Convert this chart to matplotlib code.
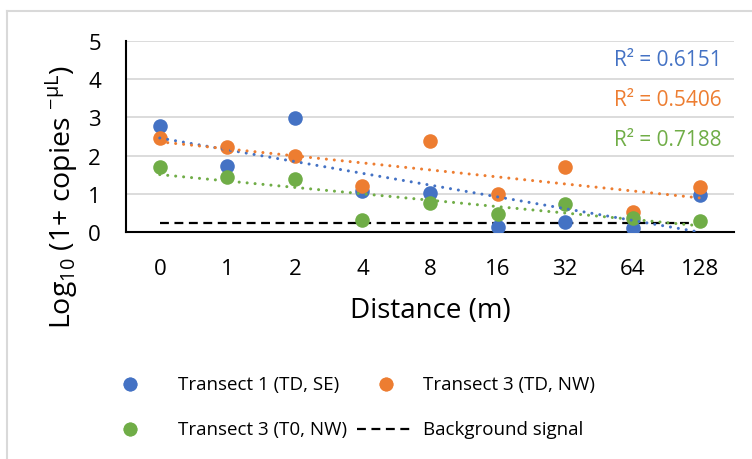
import numpy as np
import matplotlib
matplotlib.use("Agg")
import matplotlib.pyplot as plt
from matplotlib.lines import Line2D

plt.rcParams['font.family'] = ['Open Sans', 'DejaVu Sans']

categories = ["0", "1", "2", "4", "8", "16", "32", "64", "128"]
t1_td_se = [2.78, 1.73, 2.98, 1.07, 1.02, 0.13, 0.27, 0.10, 0.97]
t3_td_nw = [2.45, 2.22, 2.00, 1.21, 2.37, 0.99, 1.69, 0.52, 1.18]
t3_t0_nw = [1.71, 1.45, 1.38, 0.32, 0.76, 0.48, 0.73, 0.37, 0.29]
background = [0.23] * 9
r2_labels = ["R² = 0.6151", "R² = 0.5406", "R² = 0.7188"]
legend_labels = ["Transect 1 (TD, SE)", "Transect 3 (TD, NW)",
                 "Transect 3 (T0, NW)", "Background signal"]

blue, orange, green = "#4472C4", "#ED7D31", "#70AD47"

W, H = 752, 460
fig = plt.figure(figsize=(W / 100, H / 100), dpi=100)
ax = fig.add_axes([126 / W, 1 - 233 / H, (734 - 126) / W, (233 - 42) / H])

x = np.arange(len(categories))
ax.set_xlim(-0.5, len(categories) - 0.5)
ax.set_ylim(0, 5)
ax.set_yticks(range(6))
ax.set_xticks(x)
ax.set_xticklabels(categories)
ax.grid(axis='y', color='#d9d9d9', lw=1.3, zorder=0)
ax.set_axisbelow(True)
for s in ['top', 'right']:
    ax.spines[s].set_visible(False)
for s in ['left', 'bottom']:
    ax.spines[s].set_linewidth(1.5)
    ax.spines[s].set_color('black')
ax.tick_params(length=0, labelsize=16)
ax.tick_params(axis='x', pad=19)
ax.tick_params(axis='y', pad=18)

ax.plot(x, background, color='black', lw=1.6, ls=(0, (4, 2.5)), zorder=2)

series = [(t1_td_se, blue), (t3_td_nw, orange), (t3_t0_nw, green)]
for ys, c in series:
    ax.scatter(x, ys, s=110, color=c, zorder=3, linewidths=0)
for ys, c in series:
    p = np.polyfit(x, ys, 1)
    ax.plot(x, np.polyval(p, x), color=c, lw=2.2, ls=(0, (0.01, 2.6)),
            dash_capstyle='round', zorder=4)

for i, (lab, c) in enumerate(zip(r2_labels, [blue, orange, green])):
    fig.text(722 / W, 1 - (60 + 40 * i) / H, lab, color=c, fontsize=15,
             ha='right', va='center')

fig.text(430 / W, 1 - 311 / H, "Distance (m)", fontsize=20, ha='center', va='center')
fig.text(62 / W, 1 - 197 / H,
         r"Log$_{\mathregular{10}}$ (1+ copies $^{\mathregular{-µL}}$)",
         fontsize=20.5, rotation=90, ha='center', va='center')

# legend keys
keys = [
    dict(marker='o', ls='none', color=blue, markersize=10, markeredgewidth=0),
    dict(marker='o', ls='none', color=orange, markersize=10, markeredgewidth=0),
    dict(marker='o', ls='none', color=green, markersize=10, markeredgewidth=0),
    dict(color='black', lw=1.6, ls=(0, (4, 2.5))),
]
key_x = [(130, 130), (386, 386), (130, 130), (357, 413)]
text_x = [178, 423, 178, 423]
row_y = [385, 385, 430, 430]
for kw, kx, tx, ry, lab in zip(keys, key_x, text_x, row_y, legend_labels):
    fig.add_artist(Line2D([kx[0] / W, kx[1] / W], [1 - ry / H, 1 - ry / H],
                          transform=fig.transFigure, **kw))
    fig.text(tx / W, 1 - ry / H, lab, fontsize=13.5, ha='left', va='center')

fig.add_artist(Line2D([7 / W, 7 / W], [0, 1 - 12 / H], color='#d9d9d9', lw=1.5,
                      transform=fig.transFigure))
fig.add_artist(Line2D([7 / W, 1], [1 - 12 / H, 1 - 12 / H], color='#d9d9d9', lw=1.5,
                      transform=fig.transFigure))

fig.savefig("out.png", dpi=100)
